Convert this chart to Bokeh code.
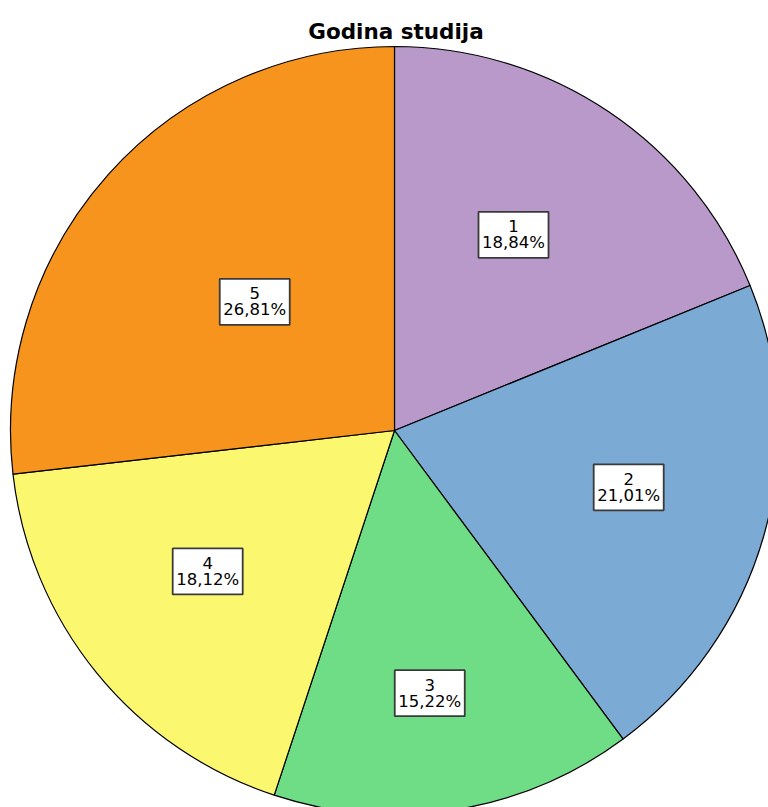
import math
from bokeh.plotting import figure
from bokeh.models import Range1d, ColumnDataSource
from bokeh.core.properties import value
from bokeh.embed import file_html
from bokeh.resources import INLINE

# ---- data ----
title_text = "Godina studija"
categories = ["1", "2", "3", "4", "5"]
percents = [18.84, 21.01, 15.22, 18.12, 26.81]
colors = ["#B899C9", "#7BAAD4", "#6FDC86", "#FBF870", "#F7941E"]

# ---- layout (pixels, page coordinates mapped to data) ----
W, H = 768, 807
cx, cy = 394, H - 430
R = 384
label_r = [229, 241, 265, 234, 190]
label_da = [-2.6, -2.0, 1.5, 2.1, 0.9]   # angular nudge of label boxes (deg)

p = figure(width=W, height=H, output_backend="svg", toolbar_location=None,
           x_range=Range1d(0, W), y_range=Range1d(0, H), min_border=0)
p.xaxis.visible = False
p.yaxis.visible = False
p.xgrid.visible = False
p.ygrid.visible = False
p.outline_line_color = None
p.background_fill_color = "white"
p.border_fill_color = "white"

total = sum(percents)
starts, ends, lx, ly, top_txt, bot_txt = [], [], [], [], [], []
cum = 0.0
for i, v in enumerate(percents):
    f0 = cum / total
    f1 = (cum + v) / total
    cum += v
    starts.append(math.pi / 2 - 2 * math.pi * f1)
    ends.append(math.pi / 2 - 2 * math.pi * f0)
    fm = (f0 + f1) / 2
    a = 2 * math.pi * fm + math.radians(label_da[i])
    lx.append(cx + label_r[i] * math.sin(a))
    ly.append(cy + label_r[i] * math.cos(a))
    top_txt.append(categories[i])
    bot_txt.append(("%.2f" % v).replace(".", ",") + "%")

src = ColumnDataSource(dict(x=[cx] * len(percents), y=[cy] * len(percents),
                            start=starts, end=ends, color=colors))
p.wedge(x="x", y="y", radius=R, start_angle="start", end_angle="end",
        fill_color="color", line_color="black", line_width=1.2, source=src)

lsrc = ColumnDataSource(dict(x=lx, y=ly,
                             y1=[v + 8.5 for v in ly], y2=[v - 8 for v in ly],
                             t1=top_txt, t2=bot_txt))
p.rect(x="x", y="y", width=70, height=46, fill_color="white",
       line_color="#3a3a3a", line_width=1.8, source=lsrc)
p.text(x="x", y="y1", text="t1", text_align="center", text_baseline="middle",
       text_font=value("DejaVu Sans"), text_font_size="16.5px",
       text_color="black", source=lsrc)
p.text(x="x", y="y2", text="t2", text_align="center", text_baseline="middle",
       text_font=value("DejaVu Sans"), text_font_size="16.5px",
       text_color="black", source=lsrc)

p.text(x=[395.5], y=[H - 31], text=[title_text], text_align="center",
       text_baseline="alphabetic", text_font=value("DejaVu Sans"),
       text_font_size="21.5px", text_font_style="bold", text_color="black")

open("out.html", "w").write(file_html(p, INLINE))
